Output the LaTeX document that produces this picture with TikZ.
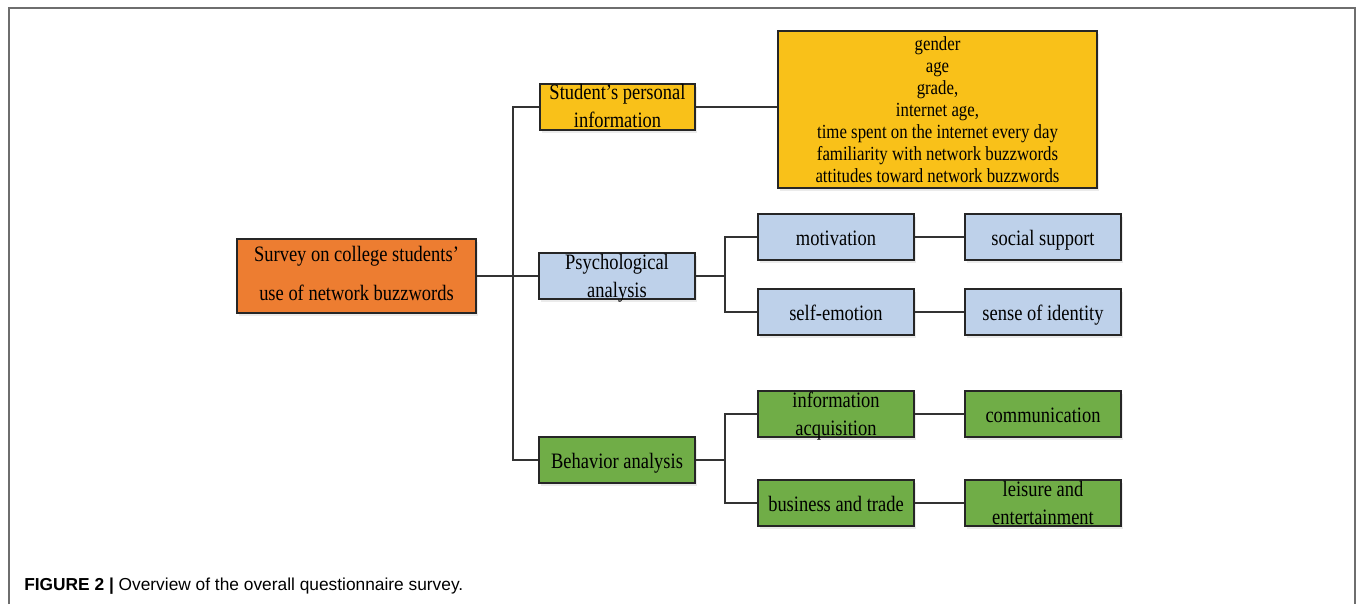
\documentclass[tikz,border=0pt]{standalone}
\usepackage{fontspec}
\setmainfont{Liberation Serif}
\newfontfamily\capfont{Liberation Sans}
\usetikzlibrary{shadows}
\definecolor{orangefill}{HTML}{ED7D31}
\definecolor{goldfill}{HTML}{F9C119}
\definecolor{bluefill}{HTML}{BED1EA}
\definecolor{greenfill}{HTML}{70AD47}
\definecolor{edgecol}{HTML}{262626}
\definecolor{linecol}{HTML}{333333}
\definecolor{framecol}{HTML}{6E6E6E}
% [#1] vertical offset (twice the downward shift), #2 baselineskip, #3 font size, #4 lines
\newcommand\boxtext[4][4.5pt]{\vbox to 20pt{\vskip#1\vss\hbox{\scalebox{0.84}[1]{\fontsize{#3}{#2}\selectfont\begin{tabular}{@{}c@{}}#4\end{tabular}}}\vss}}
\tikzset{
  box/.style={draw=edgecol, line width=0.8pt, inner sep=0pt, rectangle,
    drop shadow={shadow xshift=1.5pt, shadow yshift=-2pt, fill=black, opacity=0.08}},
  smallbox/.style={box, minimum width=117pt, minimum height=34.5pt},
  conn/.style={draw=linecol, line width=1pt},
}
\begin{document}
\begin{tikzpicture}[x=0.75pt, y=-0.75pt]
\useasboundingbox (0,0) rectangle (1357,604);
\draw[framecol, line width=1.2pt] (9,604) -- (9,8) -- (1355,8) -- (1355,604);

% root
\node[box, fill=orangefill, minimum width=179.25pt, minimum height=55.5pt] (root) at (356.5,276)
  {\boxtext[-3.7pt]{29.25pt}{16.5}{Survey on college students'\\use of network buzzwords}};
% level 1
\node[box, fill=goldfill, minimum width=116.25pt, minimum height=34.5pt] (stu) at (617.5,107)
  {\boxtext[1.5pt]{21pt}{16.5}{Student's personal\\information}};
\node[box, fill=bluefill, minimum width=117pt, minimum height=34.5pt] (psy) at (617,276)
  {\boxtext[3pt]{21pt}{16.5}{Psychological\\analysis}};
\node[box, fill=greenfill, minimum width=117pt, minimum height=34.5pt] (beh) at (617,460)
  {\boxtext{21pt}{16.5}{Behavior analysis}};
% info box
\node[box, fill=goldfill, minimum width=239.25pt, minimum height=117.75pt] (info) at (937.5,109.5)
  {\boxtext{16.5pt}{15}{gender\\age\\grade,\\internet age,\\time spent on the internet every day\\familiarity with network buzzwords\\attitudes toward network buzzwords}};
% psychological children
\node[smallbox, fill=bluefill] (mot) at (836,237) {\boxtext{21pt}{16.5}{motivation}};
\node[smallbox, fill=bluefill] (soc) at (1043,237) {\boxtext{21pt}{16.5}{social support}};
\node[smallbox, fill=bluefill] (self) at (836,312) {\boxtext{21pt}{16.5}{self-emotion}};
\node[smallbox, fill=bluefill] (sen) at (1043,312) {\boxtext{21pt}{16.5}{sense of identity}};
% behavior children
\node[smallbox, fill=greenfill] (ia) at (836,414) {\boxtext[3pt]{21pt}{16.5}{information\\acquisition}};
\node[smallbox, fill=greenfill] (com) at (1043,414) {\boxtext{21pt}{16.5}{communication}};
\node[smallbox, fill=greenfill] (bt) at (836,503) {\boxtext{21pt}{16.5}{business and trade}};
\node[smallbox, fill=greenfill] (le) at (1043,503) {\boxtext[3pt]{21pt}{16.5}{leisure and\\entertainment}};

% connectors
\coordinate (trunk) at (513,276);
\coordinate (pj) at (725,276);
\coordinate (bj) at (725,460);
\draw[conn] (root.east) -- (psy.west);
\draw[conn] (stu.west) -| (trunk);
\draw[conn] (beh.west) -| (trunk);
\draw[conn] (stu.east) -- (info.west |- stu.east);
\draw[conn] (psy.east) -- (pj);
\draw[conn] (mot.west) -| (pj);
\draw[conn] (self.west) -| (pj);
\draw[conn] (mot.east) -- (soc.west);
\draw[conn] (self.east) -- (sen.west);
\draw[conn] (beh.east) -- (bj);
\draw[conn] (ia.west) -| (bj);
\draw[conn] (bt.west) -| (bj);
\draw[conn] (ia.east) -- (com.west);
\draw[conn] (bt.east) -- (le.west);

% caption
\node[anchor=west, inner sep=0pt] (cap) at (24,586)
  {\capfont\fontsize{13}{15}\selectfont\textbf{FIGURE 2 |} Overview of the overall questionnaire survey.};
\end{tikzpicture}
\end{document}
